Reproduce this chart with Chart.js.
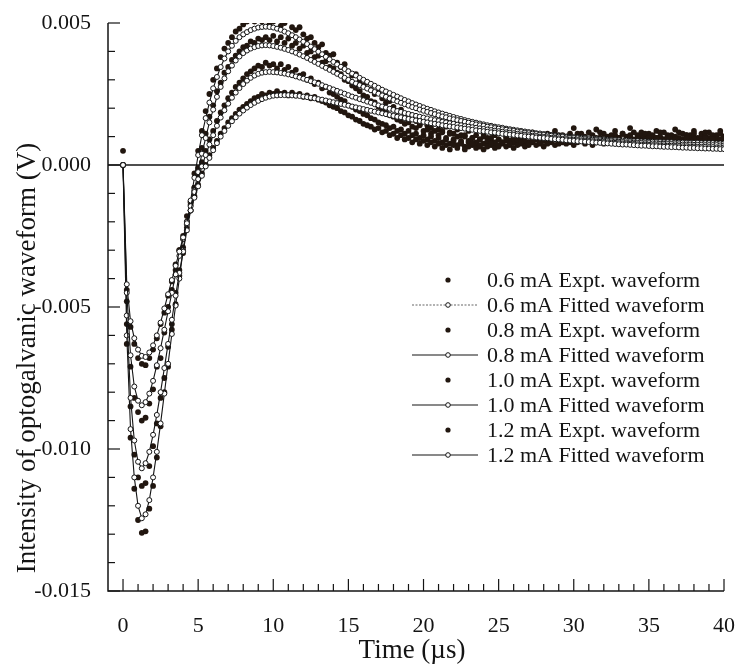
<!DOCTYPE html>
<html><head><meta charset="utf-8">
<script src="https://cdn.jsdelivr.net/npm/chart.js@4.4.1/dist/chart.umd.min.js"></script>
<style>html,body{margin:0;padding:0;background:#fff}#wrap{width:736px;height:664px}</style>
</head><body><div id="wrap"><canvas id="c" width="736" height="664"></canvas></div>
<script>
// Time (µs)
const times = [
0,0.25,0.5,0.75,1,1.25,1.5,1.75,2,2.25,2.5,2.75,3,3.25,3.5,3.75,4,4.25,4.5,4.75,
5,5.25,5.5,5.75,6,6.25,6.5,6.75,7,7.25,7.5,7.75,8,8.25,8.5,8.75,9,9.25,9.5,9.75,
10,10.25,10.5,10.75,11,11.25,11.5,11.75,12,12.25,12.5,12.75,13,13.25,13.5,13.75,14,14.25,14.5,14.75,
15,15.25,15.5,15.75,16,16.25,16.5,16.75,17,17.25,17.5,17.75,18,18.25,18.5,18.75,19,19.25,19.5,19.75,
20,20.25,20.5,20.75,21,21.25,21.5,21.75,22,22.25,22.5,22.75,23,23.25,23.5,23.75,24,24.25,24.5,24.75,
25,25.25,25.5,25.75,26,26.25,26.5,26.75,27,27.25,27.5,27.75,28,28.25,28.5,28.75,29,29.25,29.5,29.75,
30,30.25,30.5,30.75,31,31.25,31.5,31.75,32,32.25,32.5,32.75,33,33.25,33.5,33.75,34,34.25,34.5,34.75,
35,35.25,35.5,35.75,36,36.25,36.5,36.75,37,37.25,37.5,37.75,38,38.25,38.5,38.75,39,39.25,39.5,39.75,
40];

// Values in mV (converted to V when plotted)
const expt06 = [
0.0,-4.4,-5.7,-6.3,-6.8,-7.0,-7.05,-6.8,-6.5,-6.1,-5.6,-5.2,-4.6,-4.1,-3.5,-3.0,-2.6,-2.0,-1.6,-1.1,
-0.7,-0.3,0.0,0.35,0.6,0.85,1.1,1.3,1.5,1.65,1.8,1.95,2.05,2.15,2.25,2.35,2.4,2.5,2.45,2.55,
2.5,2.6,2.5,2.55,2.45,2.55,2.45,2.5,2.4,2.45,2.35,2.4,2.3,2.25,2.2,2.1,2.05,2.0,1.9,1.85,
1.75,1.7,1.6,1.55,1.45,1.4,1.35,1.25,1.3,1.15,1.2,1.05,1.1,0.95,1.05,0.9,0.95,0.8,0.9,0.75,
0.85,0.7,0.8,0.65,0.75,0.6,0.7,0.55,0.7,0.6,0.75,0.55,0.65,0.75,0.6,0.7,0.55,0.65,0.75,0.6,
0.7,0.8,0.65,0.75,0.6,0.7,0.8,0.65,0.75,0.85,0.7,0.8,0.65,0.75,0.85,0.7,0.8,0.9,0.75,0.85,
0.7,0.8,0.9,0.75,0.85,0.7,0.8,0.9,0.75,0.85,0.95,0.8,0.9,0.75,0.85,0.95,0.8,0.9,0.75,0.85,
0.95,0.8,0.9,0.75,0.85,0.95,0.8,0.9,0.75,0.85,0.95,0.8,0.9,0.75,0.85,0.95,0.8,0.9,0.75,0.85,
0.9];
const fit06 = [
0,-4.2,-5.5,-6.1,-6.5,-6.72,-6.76,-6.6,-6.35,-6.0,-5.55,-5.05,-4.55,-4.05,-3.55,-3.05,-2.55,-2.05,-1.6,-1.15,
-0.75,-0.38,-0.05,0.25,0.52,0.77,1.0,1.2,1.38,1.54,1.68,1.81,1.92,2.02,2.11,2.19,2.26,2.32,2.37,2.41,
2.44,2.45,2.46,2.46,2.46,2.45,2.44,2.43,2.41,2.39,2.37,2.35,2.32,2.3,2.27,2.24,2.21,2.18,2.15,2.12,
2.09,2.06,2.03,2.0,1.97,1.94,1.91,1.88,1.85,1.82,1.79,1.76,1.73,1.7,1.68,1.65,1.62,1.6,1.57,1.55,
1.52,1.5,1.47,1.45,1.43,1.4,1.38,1.36,1.34,1.32,1.3,1.28,1.26,1.24,1.22,1.2,1.19,1.17,1.15,1.14,
1.12,1.1,1.09,1.07,1.06,1.04,1.03,1.01,1.0,0.99,0.97,0.96,0.95,0.94,0.92,0.91,0.9,0.89,0.87,0.86,
0.85,0.84,0.83,0.82,0.81,0.8,0.79,0.78,0.77,0.76,0.75,0.74,0.73,0.72,0.72,0.71,0.7,0.69,0.68,0.68,
0.67,0.66,0.66,0.65,0.64,0.64,0.63,0.63,0.62,0.61,0.61,0.6,0.6,0.59,0.59,0.58,0.58,0.57,0.57,0.56,
0.56];
const expt08 = [
0.0,-4.8,-7.1,-8.2,-8.7,-9.0,-8.9,-8.4,-7.9,-7.1,-6.8,-5.9,-5.0,-4.4,-3.7,-3.0,-2.5,-1.8,-1.3,-0.8,
-0.35,0.1,0.5,0.9,1.2,1.55,1.85,2.1,2.35,2.55,2.75,2.9,3.05,3.2,3.3,3.4,3.5,3.45,3.6,3.5,
3.55,3.4,3.55,3.35,3.45,3.25,3.35,3.15,3.2,3.0,3.05,2.85,2.9,2.7,2.75,2.55,2.5,2.4,2.3,2.25,
2.1,2.05,1.95,1.9,1.8,1.75,1.65,1.6,1.5,1.45,1.4,1.3,1.35,1.2,1.25,1.1,1.2,1.05,1.1,0.95,
1.05,0.9,1.0,0.85,0.95,0.8,0.9,0.75,0.85,0.7,0.8,0.65,0.85,0.7,0.8,0.65,0.75,0.85,0.7,0.8,
0.65,0.75,0.85,0.7,0.8,0.9,0.75,0.85,0.7,0.8,0.9,0.75,0.85,0.95,0.8,0.9,0.75,0.85,1.0,0.8,
0.9,0.85,0.95,0.8,0.9,1.0,0.85,0.95,0.8,0.9,1.0,0.85,0.95,0.8,0.9,1.05,0.85,0.95,0.8,0.9,
1.0,0.85,0.95,0.8,0.9,1.0,0.85,0.95,0.8,0.9,1.05,0.85,0.95,0.8,0.9,1.0,0.85,0.95,0.8,0.9,
1.0];
const fit08 = [
0,-4.5,-6.7,-7.8,-8.3,-8.46,-8.35,-8.05,-7.6,-7.05,-6.45,-5.8,-5.15,-4.5,-3.85,-3.2,-2.6,-2.0,-1.45,-0.95,
-0.5,-0.05,0.35,0.72,1.05,1.38,1.67,1.93,2.16,2.37,2.55,2.71,2.85,2.97,3.07,3.15,3.21,3.25,3.27,3.28,
3.27,3.26,3.24,3.22,3.19,3.16,3.12,3.08,3.04,3.0,2.95,2.91,2.86,2.81,2.76,2.71,2.66,2.61,2.56,2.51,
2.46,2.41,2.37,2.32,2.28,2.23,2.19,2.14,2.1,2.06,2.02,1.98,1.94,1.9,1.87,1.83,1.8,1.76,1.73,1.7,
1.67,1.64,1.61,1.58,1.55,1.52,1.5,1.47,1.45,1.42,1.4,1.37,1.35,1.33,1.31,1.29,1.27,1.25,1.23,1.21,
1.19,1.17,1.15,1.14,1.12,1.1,1.08,1.07,1.05,1.03,1.02,1.0,0.99,0.98,0.96,0.95,0.94,0.92,0.91,0.9,
0.89,0.88,0.87,0.86,0.85,0.84,0.83,0.82,0.81,0.8,0.79,0.78,0.77,0.76,0.76,0.75,0.74,0.73,0.72,0.72,
0.71,0.7,0.7,0.69,0.69,0.68,0.68,0.67,0.67,0.66,0.66,0.65,0.65,0.64,0.64,0.64,0.63,0.63,0.62,0.62,
0.62];
const expt10 = [
0.0,-5.6,-8.5,-10.2,-11.0,-11.3,-11.2,-10.6,-9.9,-9.1,-8.2,-7.5,-6.4,-5.6,-4.5,-3.7,-2.9,-2.2,-1.4,-0.8,
-0.1,0.6,1.1,1.7,2.1,2.6,2.9,3.25,3.45,3.7,3.85,4.0,4.15,4.2,4.35,4.3,4.45,4.4,4.5,4.4,
4.55,4.35,4.5,4.3,4.45,4.2,4.3,4.1,4.2,3.95,4.0,3.8,3.85,3.6,3.65,3.45,3.4,3.25,3.2,3.0,
2.95,2.8,2.7,2.6,2.45,2.4,2.25,2.2,2.05,1.95,1.9,1.75,1.7,1.6,1.55,1.45,1.5,1.35,1.3,1.4,
1.2,1.25,1.1,1.2,1.05,1.15,0.95,1.1,0.9,1.0,0.85,1.05,0.8,0.95,0.75,0.9,1.0,0.8,0.95,0.75,
0.9,0.8,1.0,0.85,0.95,0.75,0.9,1.0,0.8,0.95,1.05,0.85,0.95,0.8,1.0,0.9,1.05,0.8,0.95,1.0,
0.85,1.1,0.9,1.0,0.85,1.05,0.95,1.15,0.9,1.0,0.85,1.05,0.95,1.1,0.9,1.0,1.15,0.85,1.0,1.1,
0.9,1.05,0.95,1.15,0.9,1.05,0.95,1.0,1.15,0.9,1.05,0.95,1.1,0.9,1.0,1.15,0.95,1.05,0.9,1.1,
1.0];
const fit10 = [
0,-5.3,-8.2,-9.7,-10.45,-10.68,-10.5,-10.1,-9.5,-8.8,-8.0,-7.15,-6.3,-5.45,-4.6,-3.8,-3.05,-2.3,-1.6,-0.9,
-0.25,0.4,0.95,1.5,1.95,2.4,2.75,3.05,3.3,3.5,3.68,3.82,3.94,4.03,4.1,4.15,4.19,4.21,4.22,4.21,
4.19,4.16,4.13,4.09,4.05,4.0,3.95,3.89,3.83,3.77,3.7,3.63,3.56,3.49,3.42,3.35,3.28,3.21,3.14,3.07,
3.0,2.93,2.87,2.81,2.75,2.69,2.63,2.57,2.51,2.45,2.4,2.34,2.29,2.24,2.19,2.14,2.09,2.04,2.0,1.95,
1.91,1.87,1.83,1.79,1.75,1.71,1.68,1.64,1.61,1.58,1.55,1.52,1.49,1.46,1.43,1.4,1.38,1.35,1.33,1.3,
1.28,1.26,1.24,1.22,1.2,1.18,1.16,1.14,1.12,1.1,1.09,1.07,1.06,1.04,1.03,1.01,1.0,0.99,0.97,0.96,
0.95,0.94,0.93,0.91,0.9,0.89,0.88,0.87,0.86,0.85,0.84,0.83,0.82,0.81,0.8,0.8,0.79,0.78,0.78,0.77,
0.77,0.76,0.76,0.75,0.75,0.74,0.74,0.73,0.73,0.72,0.72,0.72,0.71,0.71,0.71,0.7,0.7,0.7,0.7,0.69,
0.69];
const expt12 = [
0.5,-6.3,-9.6,-11.4,-12.5,-12.95,-12.9,-12.1,-11.3,-10.3,-9.2,-8.0,-7.1,-5.8,-4.9,-3.9,-3.1,-2.0,-1.3,-0.3,
0.5,1.2,1.9,2.5,3.0,3.4,3.8,4.1,4.3,4.5,4.7,4.8,4.95,5.05,5.1,5.05,5.1,5.05,5.1,4.95,
5.05,5.1,4.9,5.0,5.1,4.85,4.75,4.85,4.6,4.45,4.5,4.3,4.15,4.25,3.95,3.85,3.9,3.6,3.45,3.55,
3.3,3.15,3.2,2.95,2.8,2.9,2.65,2.5,2.55,2.35,2.2,2.25,2.05,1.9,1.95,1.8,1.65,1.75,1.55,1.45,
1.55,1.4,1.3,1.45,1.25,1.2,1.35,1.15,1.1,1.25,1.05,1.0,1.2,0.95,1.05,0.9,1.1,0.95,0.85,1.05,
0.9,1.15,0.95,0.85,1.1,0.9,1.05,0.8,1.0,1.15,0.9,1.05,0.85,1.1,0.95,1.2,0.9,1.05,0.85,1.1,
1.3,0.95,1.1,0.9,1.15,1.0,1.25,0.95,1.1,0.85,1.05,1.2,0.95,1.1,1.0,1.3,0.9,1.05,1.15,0.95,
1.1,0.9,1.2,1.0,1.15,0.9,1.05,1.25,0.95,1.1,0.85,1.05,1.2,0.95,1.1,1.0,1.15,0.9,1.05,1.2,
1.0];
const fit12 = [
0,-6.0,-9.3,-11.0,-12.0,-12.44,-12.3,-11.8,-11.0,-10.1,-9.1,-8.05,-7.0,-5.95,-4.95,-4.0,-3.0,-2.1,-1.25,-0.45,
0.35,1.05,1.65,2.2,2.7,3.1,3.45,3.75,4.0,4.2,4.37,4.5,4.6,4.68,4.75,4.8,4.84,4.86,4.87,4.86,
4.84,4.8,4.76,4.7,4.64,4.57,4.5,4.42,4.34,4.26,4.17,4.08,3.99,3.9,3.81,3.72,3.63,3.54,3.46,3.38,
3.3,3.22,3.15,3.07,3.0,2.93,2.86,2.79,2.72,2.65,2.59,2.53,2.47,2.41,2.35,2.29,2.24,2.18,2.13,2.08,
2.03,1.98,1.94,1.89,1.85,1.81,1.77,1.73,1.69,1.65,1.62,1.58,1.55,1.52,1.49,1.46,1.43,1.4,1.38,1.35,
1.33,1.31,1.28,1.26,1.24,1.22,1.2,1.18,1.16,1.14,1.12,1.11,1.09,1.07,1.06,1.04,1.03,1.02,1.0,0.99,
0.98,0.97,0.96,0.95,0.94,0.93,0.92,0.91,0.9,0.89,0.88,0.88,0.87,0.86,0.86,0.85,0.84,0.84,0.83,0.83,
0.82,0.82,0.81,0.81,0.8,0.8,0.8,0.79,0.79,0.79,0.78,0.78,0.78,0.78,0.77,0.77,0.77,0.77,0.76,0.76,
0.76];

const seriesLabels = [
  '0.6 mA Expt. waveform','0.6 mA Fitted waveform',
  '0.8 mA Expt. waveform','0.8 mA Fitted waveform',
  '1.0 mA Expt. waveform','1.0 mA Fitted waveform',
  '1.2 mA Expt. waveform','1.2 mA Fitted waveform'
];
const xTickValues = [0,5,10,15,20,25,30,35,40];
const yTickValues = [-0.015,-0.010,-0.005,0.000,0.005];
const xTitle = 'Time (\u00b5s)';
const yTitle = 'Intensity of optogalvanic waveform (V)';

const SERIF = "'Liberation Serif','DejaVu Serif',serif";
const INK = '#141414';
const DOT = '#21160f';

function pts(arr){ return times.map((t,i)=>({x:t, y:arr[i]/1000})); }

function exptSet(label, arr){
  return {label, data: pts(arr), showLine:false, pointRadius:2.9, pointHoverRadius:2.9,
    pointBackgroundColor:DOT, pointBorderWidth:0, borderColor:DOT, order:1, kind:'expt'};
}
function fitSet(label, arr){
  return {label, data: pts(arr), showLine:true, borderColor:INK, borderWidth:1.1,
    pointRadius:2.5, pointHoverRadius:2.5, pointBackgroundColor:'#fff', pointBorderColor:INK,
    pointBorderWidth:1, tension:0, order:0, kind:'fit'};
}

const datasets = [
  exptSet(seriesLabels[0], expt06), fitSet(seriesLabels[1], fit06),
  exptSet(seriesLabels[2], expt08), fitSet(seriesLabels[3], fit08),
  exptSet(seriesLabels[4], expt10), fitSet(seriesLabels[5], fit10),
  exptSet(seriesLabels[6], expt12), fitSet(seriesLabels[7], fit12)
];

const decor = {
  id:'decor',
  beforeDatasetsDraw(chart){
    const {ctx, scales:{x,y}} = chart;
    ctx.save();
    ctx.strokeStyle = INK; ctx.lineWidth = 1.4;
    const y0 = y.getPixelForValue(0);
    ctx.beginPath(); ctx.moveTo(x.getPixelForValue(-1), y0); ctx.lineTo(x.getPixelForValue(40), y0); ctx.stroke();
    ctx.restore();
  },
  afterDraw(chart){
    const {ctx, scales:{x,y}} = chart;
    const L = x.getPixelForValue(-1), R = x.getPixelForValue(40);
    const B = y.getPixelForValue(-0.015), T = y.getPixelForValue(0.005);
    ctx.save();
    ctx.strokeStyle = INK; ctx.lineWidth = 1.5;
    ctx.beginPath(); ctx.moveTo(L, T); ctx.lineTo(L, B); ctx.lineTo(R, B); ctx.stroke();
    ctx.lineWidth = 1.2;
    for (let v = 0; v <= 40; v++) {
      const px = x.getPixelForValue(v);
      const len = (v % 5 === 0) ? 12 : 7;
      ctx.beginPath(); ctx.moveTo(px, B); ctx.lineTo(px, B - len); ctx.stroke();
    }
    for (let k = -15; k <= 5; k++) {
      const py = y.getPixelForValue(k / 1000);
      const len = (k % 5 === 0) ? 12 : 7;
      ctx.beginPath(); ctx.moveTo(L, py); ctx.lineTo(L + len, py); ctx.stroke();
    }
    ctx.fillStyle = INK;
    ctx.font = '27px ' + SERIF;
    ctx.textAlign = 'center'; ctx.textBaseline = 'alphabetic';
    ctx.fillText(xTitle, 412, 658);
    ctx.save();
    ctx.translate(35, 358); ctx.rotate(-Math.PI/2);
    ctx.fillText(yTitle, 0, 0);
    ctx.restore();
    ctx.font = '22px ' + SERIF;
    ctx.textAlign = 'left';
    chart.data.datasets.forEach((ds, i) => {
      const by = 287 + 25 * i;
      const cy = by - 7;
      if (ds.kind === 'expt') {
        ctx.fillStyle = DOT;
        ctx.beginPath(); ctx.arc(448, cy, 2.6, 0, Math.PI*2); ctx.fill();
      } else {
        ctx.strokeStyle = i === 1 ? '#666' : INK;
        ctx.lineWidth = 1.1;
        ctx.setLineDash(i === 1 ? [2,1.5] : []);
        ctx.beginPath(); ctx.moveTo(412, cy); ctx.lineTo(478, cy); ctx.stroke();
        ctx.setLineDash([]);
        ctx.strokeStyle = INK; ctx.fillStyle = '#fff'; ctx.lineWidth = 1;
        ctx.beginPath(); ctx.arc(448, cy, 2.3, 0, Math.PI*2); ctx.fill(); ctx.stroke();
      }
      ctx.fillStyle = INK;
      ctx.fillText(ds.label, 487, by);
    });
    ctx.restore();
  }
};

new Chart(document.getElementById('c'), {
  type:'line',
  data:{datasets},
  options:{
    responsive:false, animation:false, devicePixelRatio:1,
    layout:{padding:{top:23, right:12, left:0, bottom:0}},
    plugins:{legend:{display:false}, tooltip:{enabled:false}, title:{display:false}},
    scales:{
      x:{type:'linear', min:-1, max:40,
        afterBuildTicks:s=>{ s.ticks = xTickValues.map(v=>({value:v})); },
        afterFit:s=>{ s.height = 73; s.paddingLeft = 0; s.paddingRight = 0; },
        grid:{display:false, drawTicks:false}, border:{display:false},
        ticks:{font:{family:SERIF, size:22}, color:INK, padding:22, maxRotation:0, autoSkip:false}
      },
      y:{type:'linear', min:-0.015, max:0.005,
        afterBuildTicks:s=>{ s.ticks = yTickValues.map(v=>({value:v})); },
        afterFit:s=>{ s.width = 108; s.paddingTop = 0; s.paddingBottom = 0; },
        grid:{display:false, drawTicks:false}, border:{display:false},
        ticks:{font:{family:SERIF, size:22}, color:INK, padding:17, autoSkip:false,
          callback:v=>Number(v).toFixed(3)}
      }
    }
  },
  plugins:[decor]
});
</script>
</body></html>
